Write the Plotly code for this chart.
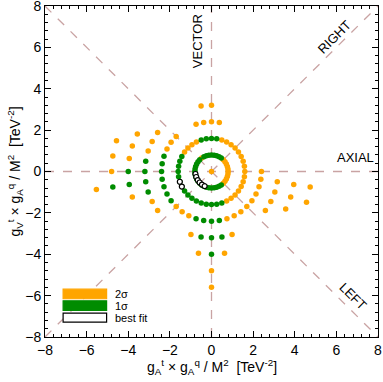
import numpy as np
import plotly.graph_objects as go

# ring radii of the scan grid (TeV^-2)
rings = [0.0, 0.8, 1.6, 2.4, 3.2, 4.0, 4.8, 5.6]

# angles (deg) of the 2 sigma points on each ring
o0 = [0]
o1 = [0, 9, 18, 27, 36, 45, 126, 315, 324, 333, 342, 351]
o2 = [0, 9, 18, 27, 36, 45, 54, 63, 72, 117, 126, 135, 144, 297, 306, 315, 324, 333, 342, 351]
o3 = [0, 81, 90, 99, 108, 135, 144, 153, 225, 234, 243, 288, 297, 306, 315, 324, 333, 342, 351]
o4 = [90, 99, 144, 153, 162, 207, 216, 252, 288, 324, 333, 342, 351]
o5 = [153, 162, 171, 198, 261, 279, 333, 342, 351]
o6 = [162, 171, 180, 270, 342, 351]
o7 = [189, 270]

# angles (deg) of the 1 sigma points on each ring
g1 = [54, 63, 72, 81, 90, 99, 108, 117, 135, 144, 153, 162, 171, 180, 189, 198, 207,
      216, 225, 234, 243, 252, 261, 270, 279, 288, 297, 306]
g2 = [81, 90, 99, 108, 153, 162, 171, 180, 189, 198, 207, 216, 225, 234, 243, 252,
      261, 270, 279, 288]
g3 = [162, 171, 180, 189, 198, 207, 216, 252, 261, 270, 279]
g4 = [171, 180, 189, 198, 261, 270, 279]
g5 = [180, 189, 270]
g6 = [189]

# best fit points
bf_r = [0.78, 0.78, 0.78, 0.78, 0.78, 0.78, 1.6, 1.6]
bf_deg = [189, 200, 212, 223, 234, 245, 198, 207]


def to_xy(r_list, deg_list):
    t = np.radians(deg_list)
    r = np.array(r_list)
    return r * np.cos(t), r * np.sin(t)


def collect(groups):
    rr, dd = [], []
    for r, degs in groups:
        rr += [r] * len(degs)
        dd += degs
    return to_xy(rr, dd)


ORANGE = '#FFA500'
GREEN = '#008C00'
LINE = '#C9A3A3'
FONT = 'Liberation Sans, Arial, sans-serif'

ox, oy = collect([(rings[0], o0), (rings[1], o1), (rings[2], o2), (rings[3], o3),
                  (rings[4], o4), (rings[5], o5), (rings[6], o6), (rings[7], o7)])
gx, gy = collect([(rings[1], g1), (rings[2], g2), (rings[3], g3), (rings[4], g4),
                  (rings[5], g5), (rings[6], g6)])
bx, by = to_xy(bf_r, bf_deg)

fig = go.Figure()
fig.add_trace(go.Scatter(x=ox, y=oy, mode='markers', name='2σ',
                         marker=dict(color=ORANGE, size=5.5, line=dict(width=0))))
fig.add_trace(go.Scatter(x=gx, y=gy, mode='markers', name='1σ',
                         marker=dict(color=GREEN, size=5.5, line=dict(width=0))))
fig.add_trace(go.Scatter(x=bx, y=by, mode='markers', name='best fit',
                         marker=dict(color='white', size=5, line=dict(color='black', width=1.2))))

# reference directions
for x0, y0, x1, y1 in [(-8, -8, 8, 8), (-8, 8, 8, -8), (0, -8, 0, 8), (-8, 0, 8, 0)]:
    fig.add_shape(type='line', x0=x0, y0=y0, x1=x1, y1=y1, layer='below',
                  line=dict(color=LINE, width=1.3, dash='dash'))

lab = dict(family=FONT, size=13, color='black')
fig.add_annotation(x=-0.67, y=6.28, text='VECTOR', textangle=-90, showarrow=False, font=lab)
fig.add_annotation(x=5.93, y=6.52, text='RIGHT', textangle=-45, showarrow=False, font=lab)
fig.add_annotation(x=6.9, y=0.66, text='AXIAL', showarrow=False, font=lab)
fig.add_annotation(x=6.81, y=-6.04, text='LEFT', textangle=45, showarrow=False, font=lab)

# legend boxes
leg_font = dict(family=FONT, size=11, color='black')
leg = [(ORANGE, ORANGE, -5.69, -6.15, '2σ'), (GREEN, GREEN, -6.25, -6.72, '1σ'),
       ('white', 'black', -6.85, -7.28, 'best fit')]
for fill, edge, ya, yb, name in leg:
    fig.add_shape(type='rect', x0=-7.13, x1=-5.04, y0=yb, y1=ya, fillcolor=fill,
                  line=dict(color=edge, width=1.2))
    fig.add_annotation(x=-4.72, y=(ya + yb) / 2, text=name, xanchor='left',
                       showarrow=False, font=leg_font)

# axis titles
title_font = dict(family=FONT, size=14, color='black')
fig.add_annotation(
    text='g<sub>A</sub><sup>t</sup> × g<sub>A</sub><sup>q</sup> / M<sup>2</sup>  [TeV<sup>-2</sup>]',
    xref='paper', yref='paper', x=0.5, y=0, yanchor='middle', yshift=-30,
    showarrow=False, font=title_font)
fig.add_annotation(
    text='g<sub>V</sub><sup>t</sup> × g<sub>A</sub><sup>q</sup> / M<sup>2</sup>  [TeV<sup>-2</sup>]',
    xref='paper', yref='paper', x=0, y=0.5, xanchor='center', xshift=-30, textangle=-90,
    showarrow=False, font=title_font)

axis = dict(range=[-8, 8], dtick=2, ticks='inside', ticklen=6, tickcolor='black',
            showline=True, linecolor='black', linewidth=1, mirror='allticks',
            showgrid=False, zeroline=False, automargin=False, ticklabeloverflow='allow',
            minor=dict(dtick=0.4, ticks='inside', ticklen=3, tickcolor='black'),
            tickfont=dict(family=FONT, size=14, color='black'))

fig.update_layout(
    width=383, height=382,
    margin=dict(l=45, r=5, t=6, b=45),
    plot_bgcolor='white', paper_bgcolor='white',
    showlegend=False,
    xaxis=axis,
    yaxis=axis,
)

# page has a default body margin; drop it so the figure sits at the window corner
fig.write_html("out.html", config={'displayModeBar': False},
               post_script="document.body.style.margin='0';")
